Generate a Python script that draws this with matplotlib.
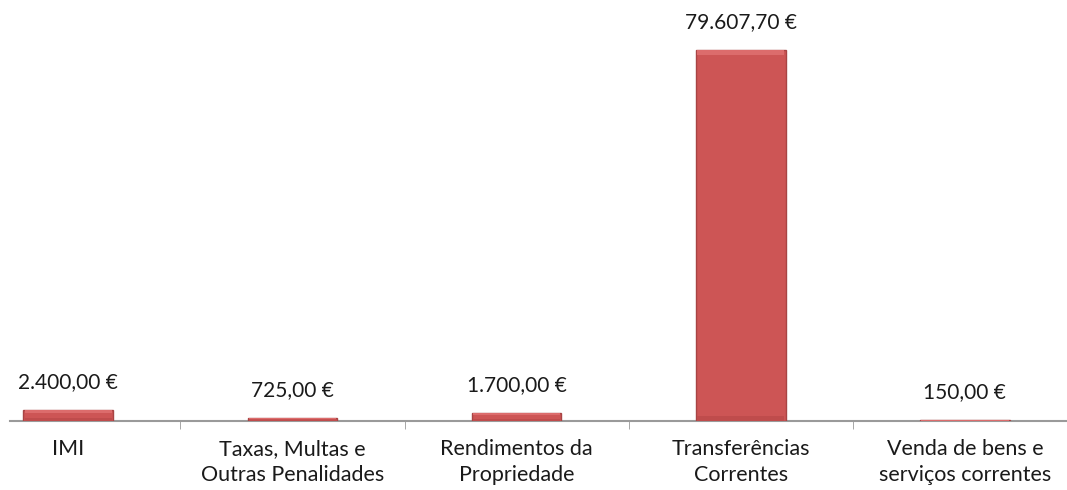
import matplotlib.pyplot as plt
from matplotlib.ticker import FixedLocator

categorias = ["IMI", "Taxas, Multas e\nOutras Penalidades", "Rendimentos da\nPropriedade",
              "Transferências\nCorrentes", "Venda de bens e\nserviços correntes"]
valores = [2400.00, 725.00, 1700.00, 79607.70, 150.00]
rotulos = ["2.400,00 €", "725,00 €", "1.700,00 €", "79.607,70 €", "150,00 €"]

plt.rcParams['font.family'] = ['Lato', 'DejaVu Sans']

fig = plt.figure(figsize=(10.67, 4.9), dpi=100)
ax = fig.add_axes([10/1067, 1-421/490, 1.0, 421/490])
ymax = 79607.70*421/371
px = ymax/421  # um pixel em unidades de dados

x = list(range(len(valores)))
ax.bar(x, valores, width=0.4, color='#CD5555', edgecolor='#A84444', linewidth=1.0, zorder=3)
# relevo: faixa clara em cima, faixa escura em baixo
bev = [min(5*px, v*0.3) for v in valores]
ax.bar(x, bev, width=0.39, bottom=[v-b for v, b in zip(valores, bev)],
       color='#DC6C6C', edgecolor='none', zorder=4)
ax.bar(x, bev, width=0.39, bottom=0,
       color='#BF4C4C', edgecolor='none', zorder=4)

for xi, v, r in zip(x, valores, rotulos):
    ax.annotate(r, (xi, v), xytext=(0, 20), textcoords='offset points',
                ha='center', va='center', fontsize=15, color='#1a1a1a')

ax.set_xlim(-0.26, 4.5)
ax.set_ylim(0, ymax)
ax.set_xticks(x)
ax.set_xticklabels(categorias, fontsize=15.5, color='#1a1a1a', linespacing=1.4)
ax.tick_params(axis='x', which='major', length=0, pad=13)
ax.xaxis.set_minor_locator(FixedLocator([0.5, 1.5, 2.5, 3.5]))
ax.tick_params(axis='x', which='minor', length=6, color='#999999', direction='out')
ax.set_yticks([])
for s in ['top', 'right', 'left']:
    ax.spines[s].set_visible(False)
ax.spines['bottom'].set_color('#9a9a9a')
ax.spines['bottom'].set_linewidth(1.5)
ax.spines['bottom'].set_zorder(2)
ax.set_facecolor('none')

fig.savefig('out.png', dpi=100)
